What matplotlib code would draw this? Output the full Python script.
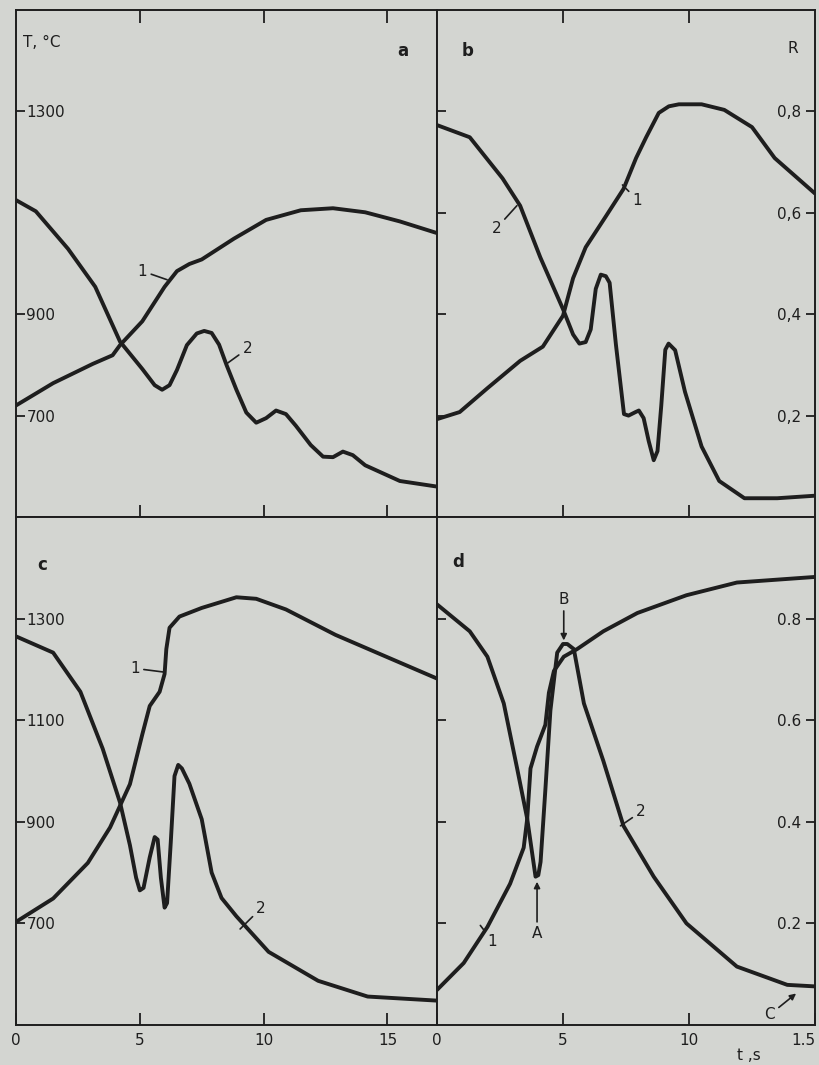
import matplotlib.pyplot as plt

# ---- data (t in s, T in deg C, R dimensionless) ----
# panel a
a_t1 = [0, 1.5, 3.1, 3.9, 4.2, 5.1, 6.0, 6.5, 7.0, 7.5, 8.8, 10.1, 11.5, 12.8, 14.1, 15.5, 17.0]
a_T1 = [720, 764, 802, 819, 839, 886, 954, 985, 999, 1008, 1049, 1086, 1105, 1109, 1101, 1083, 1060]
a_t2 = [0, 0.8, 2.1, 3.2, 4.2, 5.1, 5.6, 5.9, 6.2, 6.5, 6.9, 7.3, 7.6, 7.9, 8.2, 8.5, 8.9,
        9.3, 9.7, 10.1, 10.5, 10.9, 11.3, 11.9, 12.4, 12.8, 13.2, 13.6, 14.1, 15.5, 17.0]
a_T2 = [1125, 1103, 1029, 954, 846, 792, 760, 751, 760, 790, 839, 862, 867, 863, 840, 800, 751,
        706, 686, 695, 710, 703, 680, 642, 619, 618, 629, 622, 602, 571, 560]

# panel b
b_t1 = [0, 0.9, 2.0, 3.3, 4.2, 5.0, 5.4, 5.9, 6.7, 7.4, 7.9, 8.3, 8.8, 9.2, 9.6, 10.5, 11.4,
        12.5, 13.4, 15.0]
b_R1 = [0.193, 0.207, 0.254, 0.308, 0.336, 0.397, 0.471, 0.532, 0.593, 0.647, 0.708, 0.749,
        0.797, 0.81, 0.814, 0.814, 0.803, 0.769, 0.708, 0.638]
b_t2 = [0, 1.3, 2.6, 3.3, 4.1, 5.0, 5.4, 5.65, 5.9, 6.1, 6.3, 6.5, 6.7, 6.85, 7.1, 7.42, 7.6,
        7.88, 8.01, 8.2, 8.4, 8.6, 8.75, 8.9, 9.06, 9.19, 9.45, 9.84, 10.5, 11.2, 12.2, 13.5, 15.0]
b_R2 = [0.773, 0.749, 0.668, 0.614, 0.512, 0.410, 0.36, 0.342, 0.345, 0.37, 0.45, 0.478, 0.475,
        0.462, 0.34, 0.203, 0.200, 0.207, 0.21, 0.195, 0.15, 0.112, 0.13, 0.22, 0.33, 0.342,
        0.329, 0.247, 0.139, 0.071, 0.037, 0.037, 0.042]

# panel c
c_t1 = [0, 1.5, 2.9, 3.8, 4.6, 5.1, 5.4, 5.8, 6.0, 6.07, 6.2, 6.6, 7.5, 8.9, 9.7, 10.9, 12.9, 14.9, 17.0]
c_T1 = [703, 749, 819, 889, 974, 1072, 1128, 1156, 1191, 1240, 1282, 1304, 1321, 1342, 1339,
        1318, 1268, 1226, 1182]
c_t2 = [0, 1.5, 2.6, 3.5, 4.2, 4.6, 4.85, 5.0, 5.15, 5.4, 5.6, 5.72, 5.85, 6.0, 6.1, 6.25,
        6.4, 6.55, 6.7, 7.0, 7.5, 7.9, 8.3, 8.9, 10.2, 12.2, 14.2, 17.0]
c_T2 = [1265, 1233, 1156, 1044, 938, 854, 790, 765, 770, 830, 870, 865, 790, 731, 740, 860,
        990, 1012, 1005, 975, 905, 800, 750, 714, 644, 587, 556, 548]

# panel d
d_t1 = [0, 1.06, 2.0, 2.9, 3.44, 3.58, 3.71, 3.97, 4.3, 4.44, 4.64, 5.03, 5.56, 6.6, 7.95, 9.9, 11.9, 15.0]
d_R1 = [0.069, 0.122, 0.193, 0.278, 0.349, 0.406, 0.505, 0.548, 0.591, 0.654, 0.697, 0.725,
        0.740, 0.775, 0.811, 0.846, 0.871, 0.882]
d_t2 = [0, 1.3, 2.0, 2.65, 3.18, 3.58, 3.8, 3.91, 4.02, 4.11, 4.3, 4.5, 4.77, 5.0, 5.17, 5.43,
        5.83, 6.6, 7.4, 8.6, 9.9, 11.9, 13.9, 15.0]
d_R2 = [0.828, 0.775, 0.725, 0.633, 0.505, 0.406, 0.33, 0.292, 0.295, 0.321, 0.463, 0.619,
        0.733, 0.750, 0.750, 0.740, 0.633, 0.520, 0.392, 0.292, 0.2, 0.115, 0.079, 0.076]

T_ticks_a = [700, 900, 1300]
T_ticks_c = [700, 900, 1100, 1300]
R_ticks = [0.2, 0.4, 0.6, 0.8]
R_labels_b = ['0,2', '0,4', '0,6', '0,8']
R_labels_d = ['0.2', '0.4', '0.6', '0.8']

paper = '#d3d5d1'
ink = '#1e1e1e'

W, H = 820, 1065
fig = plt.figure(figsize=(W / 100, H / 100), dpi=100, facecolor=paper)


def box(x0, y0, x1, y1):
    return [x0 / W, 1 - y1 / H, (x1 - x0) / W, (y1 - y0) / H]


ax_a = fig.add_axes(box(16, 10, 437, 517))
ax_b = fig.add_axes(box(437, 10, 815, 517))
ax_c = fig.add_axes(box(16, 517, 437, 1025))
ax_d = fig.add_axes(box(437, 517, 815, 1025))

for ax in (ax_a, ax_b, ax_c, ax_d):
    ax.set_facecolor(paper)
    for s in ax.spines.values():
        s.set_linewidth(1.4)
        s.set_color(ink)
    ax.tick_params(direction='in', colors=ink, width=1.3, labelsize=11)
    ax.tick_params(axis='x', length=9, pad=5.5)
    ax.tick_params(axis='y', length=6.5)

line_kw = dict(color=ink, lw=2.8, solid_joinstyle='round', solid_capstyle='round')
lead_kw = dict(arrowstyle='-', color=ink, lw=1.2, shrinkA=1, shrinkB=0)
arrow_kw = dict(arrowstyle='-|>', color=ink, lw=1.2, mutation_scale=9, shrinkA=1, shrinkB=0)

# ---- a ----
ax_a.plot(a_t1, a_T1, **line_kw)
ax_a.plot(a_t2, a_T2, **line_kw)
ax_a.set_xlim(0, 17)
ax_a.set_ylim(500, 1500)
ax_a.set_xticks([5, 10, 15])
ax_a.tick_params(axis='x', top=True)
ax_a.set_yticks(T_ticks_a)
ax_a.tick_params(axis='y', pad=-7.5)
for lab in ax_a.get_yticklabels():
    lab.set_ha('left')
ax_a.text(0.3, 1435, 'T, °C', fontsize=11, va='center', color=ink)
ax_a.text(15.6, 1420, 'a', fontsize=12, fontweight='bold', ha='center', va='center', color=ink)
ax_a.annotate('1', xy=(6.1, 968), xytext=(5.1, 985), fontsize=11, ha='center', va='center',
              color=ink, arrowprops=lead_kw)
ax_a.annotate('2', xy=(8.5, 802), xytext=(9.35, 832), fontsize=11, ha='center', va='center',
              color=ink, arrowprops=lead_kw)

# ---- b ----
ax_b.plot(b_t1, b_R1, **line_kw)
ax_b.plot(b_t2, b_R2, **line_kw)
ax_b.set_xlim(0, 15)
ax_b.set_ylim(0, 1)
ax_b.set_xticks([5, 10])
ax_b.tick_params(axis='x', top=True)
ax_b.set_yticks(R_ticks)
ax_b.set_yticklabels(R_labels_b)
ax_b.tick_params(axis='y', left=True, right=True, labelleft=False, labelright=True, pad=-10)
for lab in ax_b.get_yticklabels():
    lab.set_ha('right')
ax_b.text(14.1, 0.925, 'R', fontsize=11, va='center', ha='center', color=ink)
ax_b.text(1.2, 0.92, 'b', fontsize=12, fontweight='bold', ha='center', va='center', color=ink)
ax_b.annotate('2', xy=(3.17, 0.614), xytext=(2.35, 0.569), fontsize=11, ha='center',
              va='center', color=ink, arrowprops=lead_kw)
ax_b.annotate('1', xy=(7.36, 0.655), xytext=(7.95, 0.625), fontsize=11, ha='center',
              va='center', color=ink, arrowprops=lead_kw)

# ---- c ----
ax_c.plot(c_t1, c_T1, **line_kw)
ax_c.plot(c_t2, c_T2, **line_kw)
ax_c.set_xlim(0, 17)
ax_c.set_ylim(500, 1500)
ax_c.set_xticks([0, 5, 10, 15])
ax_c.set_yticks(T_ticks_c)
ax_c.tick_params(axis='y', pad=-7.5)
for lab in ax_c.get_yticklabels():
    lab.set_ha('left')
ax_c.text(1.05, 1405, 'c', fontsize=12, fontweight='bold', ha='center', va='center', color=ink)
ax_c.annotate('1', xy=(5.93, 1195), xytext=(4.8, 1202), fontsize=11, ha='center',
              va='center', color=ink, arrowprops=lead_kw)
ax_c.annotate('2', xy=(9.05, 689), xytext=(9.9, 730), fontsize=11, ha='center',
              va='center', color=ink, arrowprops=lead_kw)

# ---- d ----
ax_d.plot(d_t1, d_R1, **line_kw)
ax_d.plot(d_t2, d_R2, **line_kw)
ax_d.set_xlim(0, 15)
ax_d.set_ylim(0, 1)
ax_d.set_xticks([0, 5, 10, 15])
ax_d.set_xticklabels(['0', '5', '10', '1.5'])
ax_d.get_xticklabels()[-1].set_ha('right')
ax_d.set_yticks(R_ticks)
ax_d.set_yticklabels(R_labels_d)
ax_d.tick_params(axis='y', left=True, right=True, labelleft=False, labelright=True, pad=-10)
for lab in ax_d.get_yticklabels():
    lab.set_ha('right')
ax_d.text(0.83, 0.911, 'd', fontsize=12, fontweight='bold', ha='center', va='center', color=ink)
ax_d.annotate('B', xy=(5.03, 0.757), xytext=(5.03, 0.838), fontsize=11, ha='center',
              va='center', color=ink, arrowprops=arrow_kw)
ax_d.annotate('A', xy=(3.97, 0.282), xytext=(3.97, 0.18), fontsize=11, ha='center',
              va='center', color=ink, arrowprops=arrow_kw)
ax_d.annotate('C', xy=(14.25, 0.062), xytext=(13.2, 0.02), fontsize=11, ha='center',
              va='center', color=ink, arrowprops=arrow_kw)
ax_d.annotate('1', xy=(1.72, 0.196), xytext=(2.2, 0.165), fontsize=11, ha='center',
              va='center', color=ink, arrowprops=lead_kw)
ax_d.annotate('2', xy=(7.28, 0.392), xytext=(8.1, 0.42), fontsize=11, ha='center',
              va='center', color=ink, arrowprops=lead_kw)

fig.text(749 / W, 1 - 1056 / H, 't ,s', fontsize=11, ha='center', va='center', color=ink)

fig.savefig('out.png', dpi=100, facecolor=paper)
